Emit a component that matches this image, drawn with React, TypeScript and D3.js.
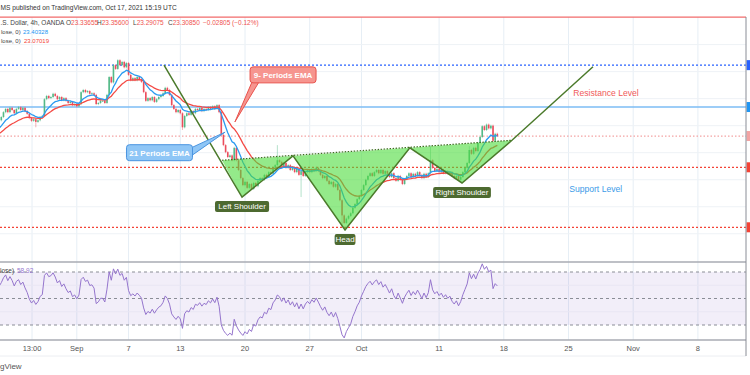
import React from "react";
import * as d3 from "d3";

// 4h closes of silver, Aug 24 -> Oct 15 2021, day index 0 = Sep 1
const firstDay = -6;
const barsPerDay = 6;
const firstOpen = 23.57;

const closesLateAug = [
  23.6, 23.66, 23.75, 23.81, 23.75, 23.83, 23.79, 23.73, 23.81, 23.84, 23.79, 23.83,
  23.77, 23.72, 23.64, 23.59, 23.62, 23.57, 23.6, 23.66, 23.68, 23.99, 24.05, 24.01,
];
const closesEndAug = [
  24.03, 24.09, 24.05, 23.99, 24.03, 23.97, 24.01, 23.96, 23.92, 23.94, 23.88, 23.9,
  23.86, 23.9, 24.12, 24.16, 24.12, 24.14, 24.09, 24.1, 24.07, 23.9, 23.92, 23.96,
];
const closesEarlySep = [
  23.96, 23.92, 24.07, 24.4, 24.3, 24.62, 24.55, 24.71, 24.62, 24.68, 24.58, 24.66,
  24.44, 24.34, 24.38, 24.34, 24.4, 24.36, 24.31, 24.12, 23.96, 24.01, 23.97, 24.03,
];
const closesSep8 = [
  23.94, 23.99, 24.03, 24.05, 24.1, 24.2, 24.16, 24.07, 23.88, 23.81, 23.75, 23.79,
  23.73, 23.47, 23.68, 23.73, 23.7, 23.77, 23.73, 23.81, 23.79, 23.83, 23.77, 23.81,
];
const closesSep14 = [
  23.79, 23.84, 23.81, 23.86, 23.81, 23.88, 23.75, 23.33, 23.14, 23.01, 22.92, 22.95,
  22.86, 23.09, 22.86, 22.68, 22.53, 22.4, 22.46, 22.35, 22.42, 22.33, 22.44, 22.38,
];
const closesSep20 = [
  22.48, 22.53, 22.5, 22.59, 22.55, 22.64, 22.61, 22.72, 22.77, 22.86, 22.83, 22.75,
  22.81, 22.72, 22.77, 22.68, 22.73, 22.64, 22.7, 22.59, 22.66, 22.57, 22.64, 22.68,
];
const closesSep24 = [
  22.64, 22.7, 22.66, 22.72, 22.66, 22.59, 22.53, 22.57, 22.48, 22.42, 22.46, 22.37,
  22.42, 22.31, 22.12, 21.84, 21.7, 21.78, 21.83, 21.88, 21.98, 22.05, 22.14, 22.2,
];
const closesOct1 = [
  22.31, 22.4, 22.5, 22.57, 22.62, 22.57, 22.64, 22.68, 22.62, 22.68, 22.61, 22.66,
  22.61, 22.55, 22.62, 22.53, 22.48, 22.57, 22.5, 22.42, 22.51, 22.57, 22.62, 22.55,
];
const closesOct7 = [
  22.61, 22.57, 22.64, 22.59, 22.53, 22.61, 22.55, 22.62, 22.86, 22.72, 22.66, 22.7,
  22.64, 22.68, 22.62, 22.66, 22.61, 22.64, 22.57, 22.53, 22.57, 22.5, 22.55, 22.64,
];
const closesOct13 = [
  22.72, 22.81, 23.05, 22.98, 23.09, 23.03, 23.18, 23.29, 23.49, 23.42, 23.52, 23.45,
  23.5, 23.22, 23.35, 23.31,
];

// notable long wicks: [bar, high, low]
const longWicks = [
  [17, null, 23.47],
  [85, null, 23.42],
  [129, 23.14, null],
  [140, null, 22.18],
  [159, null, 21.61],
  [200, 23.14, null],
  [218, 23.12, null],
];

const ema9Seed = 23.42;
const ema21Seed = 23.33;
const rsiSeedGain = 0.04;
const rsiSeedLoss = 0.029;

const timeTicks = [
  { d: -3.46, label: "13:00" },
  { d: 0, label: "Sep" },
  { d: 4, label: "7" },
  { d: 8, label: "13" },
  { d: 13, label: "20" },
  { d: 18, label: "27" },
  { d: 22, label: "Oct" },
  { d: 28, label: "11" },
  { d: 33, label: "18" },
  { d: 38, label: "25" },
  { d: 43, label: "Nov" },
  { d: 48, label: "8" },
];
const priceGrid = [21.5, 22, 22.5, 23, 23.5, 24, 24.5, 25];

const levelPrices = [25.51, 24.62, 23.845, 23.3085, 22.73, 21.62];
const levelColors = ["#f26b6b", "#2962ff", "#7dbdf5", "#f3a3a3", "#f44336", "#f44336"];
const levelDash = [null, "2,2", null, "1.5,2", "2,2", "2,2"];
const levelMarker = [false, true, true, true, true, true];

// legend values
const ohlcLabels = ["O", "H", "L", "C"];
const ohlcValues = ["23.33655", "23.35600", "23.29075", "23.30850"];
const ohlcX = [66, 97, 133, 168];
const changeText = "−0.02805 (−0.12%)";

// head & shoulders drawing (day index, price)
const patternDays = [6.74, 12.77, 16.71, 20.73, 25.74, 29.77, 33.63, 39.89];
const patternPrices = [24.62, 22.18, 22.94, 21.57, 23.09, 22.44, 23.23, 24.59];
const necklineDays = [11.22, 33.63];
const necklinePrices = [22.86, 23.23];
const patternLabels = ["Left Shoulder", "Head", "Right Shoulder"];

const callouts = [
  { text: "9- Periods EMA", d: 15.94, p: 24.44, tipD: 12.22, tipP: 23.57, fill: "#f6958f", stroke: "#e8534d", side: "bottom" },
  { text: "21 Periods EMA", d: 6.39, p: 23.0, tipD: 11.46, tipP: 23.38, fill: "#8fc6f6", stroke: "#4a94e0", side: "right" },
];

const closes = [
  ...closesLateAug, ...closesEndAug, ...closesEarlySep, ...closesSep8, ...closesSep14,
  ...closesSep20, ...closesSep24, ...closesOct1, ...closesOct7, ...closesOct13,
];

const font = "Liberation Sans, Arial, sans-serif";

function ema(values: number[], period: number, seed: number) {
  const k = 2 / (period + 1);
  let prev = seed;
  return values.map((v) => (prev = prev + k * (v - prev)));
}

function rsi(values: number[], period: number) {
  let g = rsiSeedGain;
  let l = rsiSeedLoss;
  let prev = firstOpen;
  return values.map((v) => {
    const ch = v - prev;
    prev = v;
    g = (g * (period - 1) + Math.max(ch, 0)) / period;
    l = (l * (period - 1) + Math.max(-ch, 0)) / period;
    return 100 - 100 / (1 + g / l);
  });
}

export default function App() {
  const x = d3.scaleLinear().domain([0, 48]).range([76.8, 697.9]);
  const y = d3.scaleLinear().domain([21, 25]).range([260.8, 44.6]);
  const yr = d3.scaleLinear().domain([30, 70]).range([325, 272]);
  const barX = (i: number) => x(firstDay + i / barsPerDay);

  const opens = [firstOpen, ...closes.slice(0, -1)];
  const ema9 = ema(closes, 9, ema9Seed);
  const ema21 = ema(closes, 21, ema21Seed);
  const rsiVals = rsi(closes, 14);

  const line = d3
    .line<number>()
    .x((_, i) => barX(i))
    .y((v) => y(v));
  const rsiLine = d3
    .line<number>()
    .x((_, i) => barX(i))
    .y((v) => yr(v));

  const wickPad = 0.02;
  const pts = patternDays.map((d, i) => [x(d), y(patternPrices[i])]);
  const neck = necklineDays.map((d, i) => [x(d), y(necklinePrices[i])]);
  const tris = [
    [neck[0], pts[1], pts[2]],
    [pts[2], pts[3], pts[4]],
    [pts[4], pts[5], pts[6]],
  ];

  return (
    <svg width={750} height={375} style={{ position: "absolute", left: 0, top: 0, background: "#fff" }} fontFamily={font}>
      <defs>
        <clipPath id="main">
          <rect x={0} y={16} width={746} height={246} />
        </clipPath>
        <clipPath id="rsi">
          <rect x={0} y={262} width={746} height={78} />
        </clipPath>
      </defs>

      {/* grid */}
      {timeTicks.map((t) => (
        <line key={t.label} x1={x(t.d)} x2={x(t.d)} y1={17} y2={340} stroke="#e6eef5" />
      ))}
      {priceGrid.map((p) => (
        <line key={p} x1={0} x2={746} y1={y(p)} y2={y(p)} stroke="#eef2f6" />
      ))}

      {/* header */}
      <text x={0.5} y={9.5} fontSize={6.6} fill="#333">
        MS published on TradingView.com, Oct 17, 2021 15:19 UTC
      </text>
      <text y={25} fontSize={6.5} fill="#444">
        <tspan x={0.5}>.S. Dollar, 4h, OANDA</tspan>
        {ohlcLabels.map((l, i) => (
          <tspan key={l} x={ohlcX[i]}>
            {l}
            <tspan fill="#ef5350">{ohlcValues[i]}</tspan>
          </tspan>
        ))}
        <tspan x={203} fill="#ef5350">{changeText}</tspan>
      </text>
      <text y={33.5} fontSize={6} fill="#444">
        <tspan x={1}>lose, 0)</tspan>
        <tspan x={23} fill="#2196f3">23.40328</tspan>
      </text>
      <text y={43} fontSize={6} fill="#444">
        <tspan x={1}>lose, 0)</tspan>
        <tspan x={24} fill="#f44336">23.07019</tspan>
      </text>

      <g clipPath="url(#main)">
        {/* levels */}
        {levelPrices.map((p, i) => (
          <line
            key={p}
            x1={0}
            x2={746}
            y1={y(p)}
            y2={y(p)}
            stroke={levelColors[i]}
            strokeWidth={i === 2 ? 1.6 : 1.2}
            strokeDasharray={levelDash[i] || undefined}
          />
        ))}

        {/* candles */}
        {closes.map((c, i) => {
          const o = opens[i];
          const up = c >= o;
          const col = up ? "#53b987" : "#eb4d5c";
          const w = longWicks.find((lw) => lw[0] === i);
          const hi = w && w[1] != null ? (w[1] as number) : Math.max(o, c) + wickPad;
          const lo = w && w[2] != null ? (w[2] as number) : Math.min(o, c) - wickPad;
          const bx = barX(i);
          return (
            <g key={i}>
              <line x1={bx} x2={bx} y1={y(hi)} y2={y(lo)} stroke={col} strokeOpacity={0.55} strokeWidth={0.8} />
              <rect
                x={bx - 0.8}
                width={1.6}
                y={y(Math.max(o, c))}
                height={Math.max(0.8, Math.abs(y(o) - y(c)))}
                fill={col}
              />
            </g>
          );
        })}

        <path d={line(ema21) || ""} fill="none" stroke="#f44a45" strokeWidth={1.3} />
        <path d={line(ema9) || ""} fill="none" stroke="#2a9af0" strokeWidth={1.3} />

        {/* pattern */}
        {tris.map((t, i) => (
          <polygon key={i} points={t.map((p) => p.join(",")).join(" ")} fill="#4cdc3c" fillOpacity={0.6} />
        ))}
        <line x1={neck[0][0]} y1={neck[0][1]} x2={neck[1][0]} y2={neck[1][1]} stroke="#3f6d22" strokeWidth={1.2} strokeDasharray="1.5,1.5" />
        <polyline points={pts.map((p) => p.join(",")).join(" ")} fill="none" stroke="#4b7a2b" strokeWidth={1.5} />
      </g>

      {/* pattern labels */}
      {patternLabels.map((t, i) => {
        const [px, py] = pts[1 + i * 2];
        const w = t.length * 3.7 + 6;
        return (
          <g key={t}>
            <rect x={px - w / 2} y={py + 4} width={w} height={11} rx={2} fill="#4d6a30" />
            <text x={px} y={py + 12.3} fontSize={8} fill="#fff" textAnchor="middle">
              {t}
            </text>
          </g>
        );
      })}

      {/* callouts */}
      {callouts.map((c) => {
        const cx = x(c.d);
        const cy = y(c.p);
        const w = 66;
        const h = 16;
        const tx = x(c.tipD);
        const ty = y(c.tipP);
        const tail =
          c.side === "bottom"
            ? [[cx - w / 2 + 2, cy + h / 2 - 1], [cx - w / 2 + 9, cy + h / 2 - 1], [tx, ty]]
            : [[cx + w / 2 - 1, cy - 5], [cx + w / 2 - 1, cy + 3], [tx, ty]];
        return (
          <g key={c.text}>
            <polygon points={tail.map((p) => p.join(",")).join(" ")} fill={c.fill} stroke={c.stroke} strokeWidth={1} />
            <rect x={cx - w / 2} y={cy - h / 2} width={w} height={h} rx={3} fill={c.fill} stroke={c.stroke} strokeWidth={1} />
            <text x={cx} y={cy + 3} fontSize={8} fontWeight="bold" fill="#fff" textAnchor="middle">
              {c.text}
            </text>
          </g>
        );
      })}

      <text x={x(40.9)} y={y(24.1) + 3} fontSize={8.6} fill="#f05a5a" textAnchor="middle">
        Resistance Level
      </text>
      <text x={x(40.1)} y={y(22.33) + 3} fontSize={8.6} fill="#3c9be8" textAnchor="middle">
        Support Level
      </text>

      {/* price axis markers */}
      {levelPrices.map((p, i) =>
        levelMarker[i] ? <rect key={p} x={746.5} y={y(p) - 5} width={4} height={10} fill={levelColors[i] === "#7dbdf5" ? "#2196f3" : levelColors[i]} /> : null
      )}

      {/* RSI pane */}
      <rect x={0} y={yr(70)} width={746} height={yr(30) - yr(70)} fill="#7e57c2" fillOpacity={0.1} />
      {[60, 40].map((v) => (
        <line key={v} x1={0} x2={746} y1={yr(v)} y2={yr(v)} stroke="#e9e6f3" />
      ))}
      {[70, 50, 30].map((v) => (
        <line key={v} x1={0} x2={746} y1={yr(v)} y2={yr(v)} stroke="#8a8d96" strokeDasharray="3,3" />
      ))}
      <g clipPath="url(#rsi)">
        <path d={rsiLine(rsiVals) || ""} fill="none" stroke="#9575cd" strokeWidth={1} />
      </g>
      <text y={272.5} fontSize={6.5} fill="#444">
        <tspan x={0}>lose)</tspan>
        <tspan x={17} fill="#9575cd">58.92</tspan>
      </text>

      {/* frames */}
      <line x1={0} x2={746} y1={262} y2={262} stroke="#a8abb3" strokeWidth={1.3} />
      <line x1={0} x2={746} y1={340} y2={340} stroke="#a8abb3" strokeWidth={1.3} />
      <line x1={0} x2={746} y1={356} y2={356} stroke="#eceef2" />
      <line x1={746} x2={746} y1={17} y2={356} stroke="#8a8d96" strokeWidth={1} />

      {/* time axis */}
      {timeTicks.map((t) => (
        <text key={t.label} x={x(t.d)} y={351} fontSize={7.5} fill="#555" textAnchor="middle">
          {t.label}
        </text>
      ))}
      <text x={0} y={369} fontSize={8} fill="#555">
        gView
      </text>
    </svg>
  );
}
